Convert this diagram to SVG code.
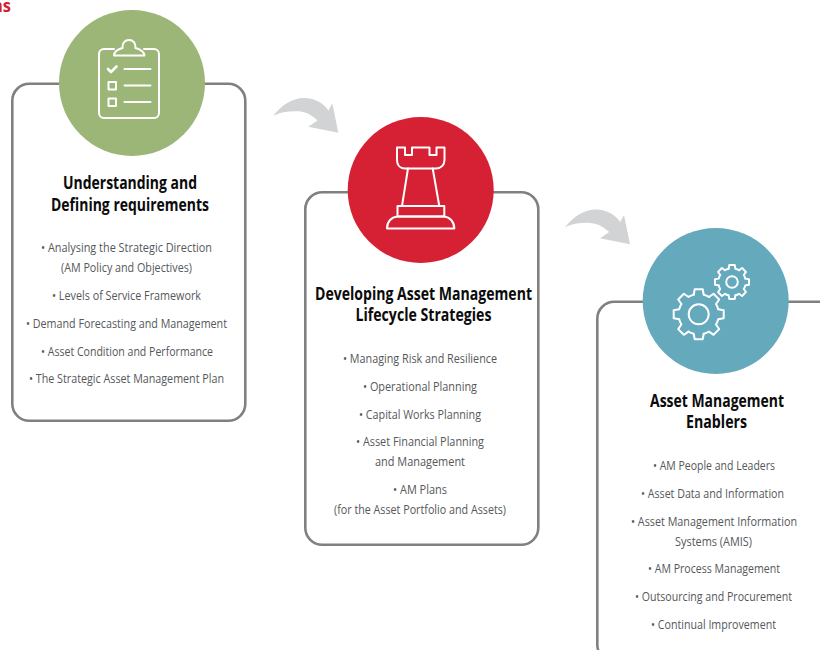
<svg xmlns="http://www.w3.org/2000/svg" xmlns:xlink="http://www.w3.org/1999/xlink" width="820" height="650" viewBox="0 0 820 650">
<style>
.card{fill:#fff;stroke:#808080;stroke-width:2.6}
.ic{fill:none;stroke:#fff;stroke-width:2;stroke-linejoin:round;stroke-linecap:round}
.t{font-family:"Open Sans","Noto Sans",sans-serif;font-weight:700;font-size:17px;fill:#0b0b0b;text-anchor:middle}
.b{font-family:"Open Sans","Noto Sans",sans-serif;font-size:13.5px;fill:#55585b;text-anchor:middle}
.arrow{fill:#d1d3d4}
</style>
<defs>
<path id="arr" d="M273.3,115.7C282,104 295,97 306,98C316,99 323,103 328.5,110.5L332.3,103.3L338.3,132.7L308.3,126.7L317.5,120.5C312,115 305,111.5 298,111.3C288,111 280,112.5 273.3,115.7Z"/>
<path id="tooth" d="M-5,-19.5L-4,-25L4,-25L5,-19.5A20.13,20.13 0 0 1 10.25,-17.33"/>
</defs>
<text x="-8" y="12" font-family="Open Sans,sans-serif" font-weight="700" font-size="17" fill="#d62134" textLength="19" lengthAdjust="spacingAndGlyphs">ns</text>
<g id="connectors">
<use href="#arr" class="arrow"/>
<use href="#arr" class="arrow" transform="translate(291.7,111.6)"/>
</g>
<g id="node-1">
<rect class="card" x="12.3" y="83.8" width="233" height="337" rx="17"/>
<circle cx="132" cy="83" r="73" fill="#9bb677"/>
<g class="ic">
<path d="M114,49H104A5,5 0 0 0 99,54V113A5,5 0 0 0 104,118H154A5,5 0 0 0 159,113V54A5,5 0 0 0 154,49H144"/>
<path d="M114,55.5H144.5C144,51 139,49 135.5,48C136,43 133,40 129,40C125,40 122,43 122.5,48C119,49 114,51 114,55.5Z"/>
<path d="M108,69L111,72L116.500,66.500" stroke-width="2.600"/>
<path d="M124.500,69H150.500M124.500,85.500H150.500M124.500,102H150.500"/>
<rect x="108.500" y="82" width="7.500" height="7.500"/>
<rect x="108.500" y="98.500" width="7.500" height="7.500"/>
</g>
<text class="t" x="130" y="189" textLength="134" lengthAdjust="spacingAndGlyphs">Understanding and</text>
<text class="t" x="130" y="211" textLength="158" lengthAdjust="spacingAndGlyphs">Defining requirements</text>
<text class="b" x="126.500" y="252" textLength="171" lengthAdjust="spacingAndGlyphs">• Analysing the Strategic Direction</text>
<text class="b" x="126.500" y="272" textLength="131" lengthAdjust="spacingAndGlyphs">(AM Policy and Objectives)</text>
<text class="b" x="126.500" y="300" textLength="149" lengthAdjust="spacingAndGlyphs">• Levels of Service Framework</text>
<text class="b" x="126.500" y="328" textLength="201" lengthAdjust="spacingAndGlyphs">• Demand Forecasting and Management</text>
<text class="b" x="127" y="356" textLength="172" lengthAdjust="spacingAndGlyphs">• Asset Condition and Performance</text>
<text class="b" x="126.500" y="383" textLength="195" lengthAdjust="spacingAndGlyphs">• The Strategic Asset Management Plan</text>
</g>
<g id="node-2">
<rect class="card" x="305.300" y="192.300" width="233" height="352.500" rx="17"/>
<circle cx="420.700" cy="190" r="73" fill="#d62134"/>
<g class="ic">
<path d="M397,147.500H405V155H412V147.500H429.500V155H436.500V147.500H444.500V160C444.500,165 441,168.500 436,168.500H405C400,168.500 397,165 397,160Z"/>
<path d="M408,168.500L402,206M432.700,168.500L439.300,206"/>
<rect x="397.500" y="206" width="46.800" height="10.500"/>
<path d="M387,228.500H454.300C454.300,222 450,217 444,216.500H397.500C391,217 387,222 387,228.500Z"/>
</g>
<text class="t" x="423.500" y="300" textLength="217" lengthAdjust="spacingAndGlyphs">Developing Asset Management</text>
<text class="t" x="423.500" y="321" textLength="136" lengthAdjust="spacingAndGlyphs">Lifecycle Strategies</text>
<text class="b" x="420" y="363" textLength="154" lengthAdjust="spacingAndGlyphs">• Managing Risk and Resilience</text>
<text class="b" x="420" y="391" textLength="114" lengthAdjust="spacingAndGlyphs">• Operational Planning</text>
<text class="b" x="420" y="419" textLength="122" lengthAdjust="spacingAndGlyphs">• Capital Works Planning</text>
<text class="b" x="420" y="446" textLength="128" lengthAdjust="spacingAndGlyphs">• Asset Financial Planning</text>
<text class="b" x="420" y="466" textLength="90" lengthAdjust="spacingAndGlyphs">and Management</text>
<text class="b" x="420" y="494" textLength="54" lengthAdjust="spacingAndGlyphs">• AM Plans</text>
<text class="b" x="420" y="514" textLength="172" lengthAdjust="spacingAndGlyphs">(for the Asset Portfolio and Assets)</text>
</g>
<g id="node-3">
<rect class="card" x="597.300" y="301.800" width="240" height="360" rx="17"/>
<circle cx="715.700" cy="301" r="73" fill="#65a9bc"/>
<g class="ic">
<g transform="translate(698.700,314.300)">
<use href="#tooth"/><use href="#tooth" transform="rotate(45)"/><use href="#tooth" transform="rotate(90)"/><use href="#tooth" transform="rotate(135)"/><use href="#tooth" transform="rotate(180)"/><use href="#tooth" transform="rotate(225)"/><use href="#tooth" transform="rotate(270)"/><use href="#tooth" transform="rotate(315)"/>
<circle r="10"/>
</g>
<g transform="translate(732,282) scale(.68)" stroke-width="2.900">
<use href="#tooth"/><use href="#tooth" transform="rotate(45)"/><use href="#tooth" transform="rotate(90)"/><use href="#tooth" transform="rotate(135)"/><use href="#tooth" transform="rotate(180)"/><use href="#tooth" transform="rotate(225)"/><use href="#tooth" transform="rotate(270)"/><use href="#tooth" transform="rotate(315)"/>
<circle r="8.500"/>
</g>
</g>
<text class="t" x="717" y="407" textLength="134" lengthAdjust="spacingAndGlyphs">Asset Management</text>
<text class="t" x="716.500" y="428" textLength="61" lengthAdjust="spacingAndGlyphs">Enablers</text>
<text class="b" x="714" y="470" textLength="122" lengthAdjust="spacingAndGlyphs">• AM People and Leaders</text>
<text class="b" x="712.500" y="498" textLength="143" lengthAdjust="spacingAndGlyphs">• Asset Data and Information</text>
<text class="b" x="714" y="526" textLength="166" lengthAdjust="spacingAndGlyphs">• Asset Management Information</text>
<text class="b" x="713.500" y="546" textLength="77" lengthAdjust="spacingAndGlyphs">Systems (AMIS)</text>
<text class="b" x="714" y="573" textLength="132" lengthAdjust="spacingAndGlyphs">• AM Process Management</text>
<text class="b" x="713.500" y="601" textLength="157" lengthAdjust="spacingAndGlyphs">• Outsourcing and Procurement</text>
<text class="b" x="713.500" y="629" textLength="125" lengthAdjust="spacingAndGlyphs">• Continual Improvement</text>
</g>
</svg>
